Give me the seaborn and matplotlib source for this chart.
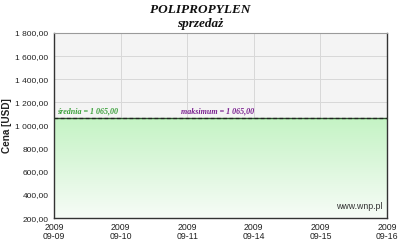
import numpy as np
import pandas as pd
import matplotlib
matplotlib.use("Agg")
import matplotlib.pyplot as plt
import seaborn as sns
from matplotlib.colors import LinearSegmentedColormap

dates = ["2009\n09-09", "2009\n09-10", "2009\n09-11", "2009\n09-14", "2009\n09-15", "2009\n09-16"]
prices = [1065.0, 1065.0, 1065.0, 1065.0, 1065.0, 1065.0]
y_ticks = [200, 400, 600, 800, 1000, 1200, 1400, 1600, 1800]
y_tick_labels = ["200,00", "400,00", "600,00", "800,00", "1 000,00", "1 200,00", "1 400,00", "1 600,00", "1 800,00"]
avg_label = "średnia = 1 065,00"
max_label = "maksimum = 1 065,00"
avg_value = 1065.0

sns.set_theme(style="white")
plt.rcParams['font.family'] = ['Liberation Sans', 'DejaVu Sans']

df = pd.DataFrame({"x": np.arange(len(dates)), "cena": prices})

fig = plt.figure(figsize=(4.0, 2.45), dpi=100)
ax = fig.add_axes([0.135, 0.110, 0.8325, 0.7553])
ax.set_facecolor("#f4f4f4")

# gradient fill under line
ymin, ymax = 200, 1800
grad = np.linspace(0, 1, 256).reshape(-1, 1)
cmap = LinearSegmentedColormap.from_list("g", ["#f7fcf7", "#c4f3c4"])
poly = ax.fill_between(df["x"], df["cena"], ymin, color="none", lw=0)
im = ax.imshow(grad, aspect="auto", cmap=cmap, origin="lower",
               extent=[df["x"].min(), df["x"].max(), ymin, max(prices)], zorder=1)
im.set_clip_path(poly.get_paths()[0], transform=ax.transData)

sns.lineplot(data=df, x="x", y="cena", ax=ax, color="#2a5a2a", lw=1.0, zorder=3)
ax.axhline(avg_value, color="#222222", lw=0.9, ls=(0, (3, 2)), zorder=4)

ax.set_xlim(0, len(dates) - 1)
ax.set_ylim(ymin, ymax)
ax.set_xticks(df["x"])
ax.set_xticklabels(dates, fontsize=6.3, color="#222222", linespacing=1.05)
ax.set_yticks(y_ticks)
ax.set_yticklabels(y_tick_labels, fontsize=6.0, color="#222222")
ax.tick_params(axis="both", length=2.5, width=0.8, color="#333333", pad=1.5, direction="out")
ax.tick_params(axis="x", pad=1)
ax.grid(True, color="#d8d8d8", lw=0.7, zorder=0)
ax.set_axisbelow(True)
for side in ["left", "bottom", "right"]:
    ax.spines[side].set_color("#333333")
    ax.spines[side].set_linewidth(1.0)
ax.spines["top"].set_color("#9a9a9a")
ax.spines["top"].set_linewidth(0.8)
ax.set_xlabel("")
ax.set_ylabel("Cena [USD]", fontsize=7.2, fontweight="bold", color="#222222", labelpad=2)

ax.text(0.05, avg_value + 25, avg_label, fontsize=5.8, color="#3aa03a", fontweight="bold",
        fontstyle="italic", family="Liberation Serif", va="bottom", zorder=5)
ax.text(1.9, avg_value + 25, max_label, fontsize=5.8, color="#7a2090", fontweight="bold",
        fontstyle="italic", family="Liberation Serif", va="bottom", zorder=6)

ax.text(0.985, 0.04, "www.wnp.pl", transform=ax.transAxes, fontsize=6.3, color="#333333",
        ha="right", va="bottom", zorder=6)

fig.text(0.5, 0.985, "POLIPROPYLEN", ha="center", va="top", fontsize=9.5, fontweight="bold",
         fontstyle="italic", family="Liberation Serif", color="#111111")
fig.text(0.5, 0.925, "sprzedaż", ha="center", va="top", fontsize=9.5, fontweight="bold",
         fontstyle="italic", family="Liberation Serif", color="#111111")

fig.savefig("out.png", dpi=100, facecolor="white")
